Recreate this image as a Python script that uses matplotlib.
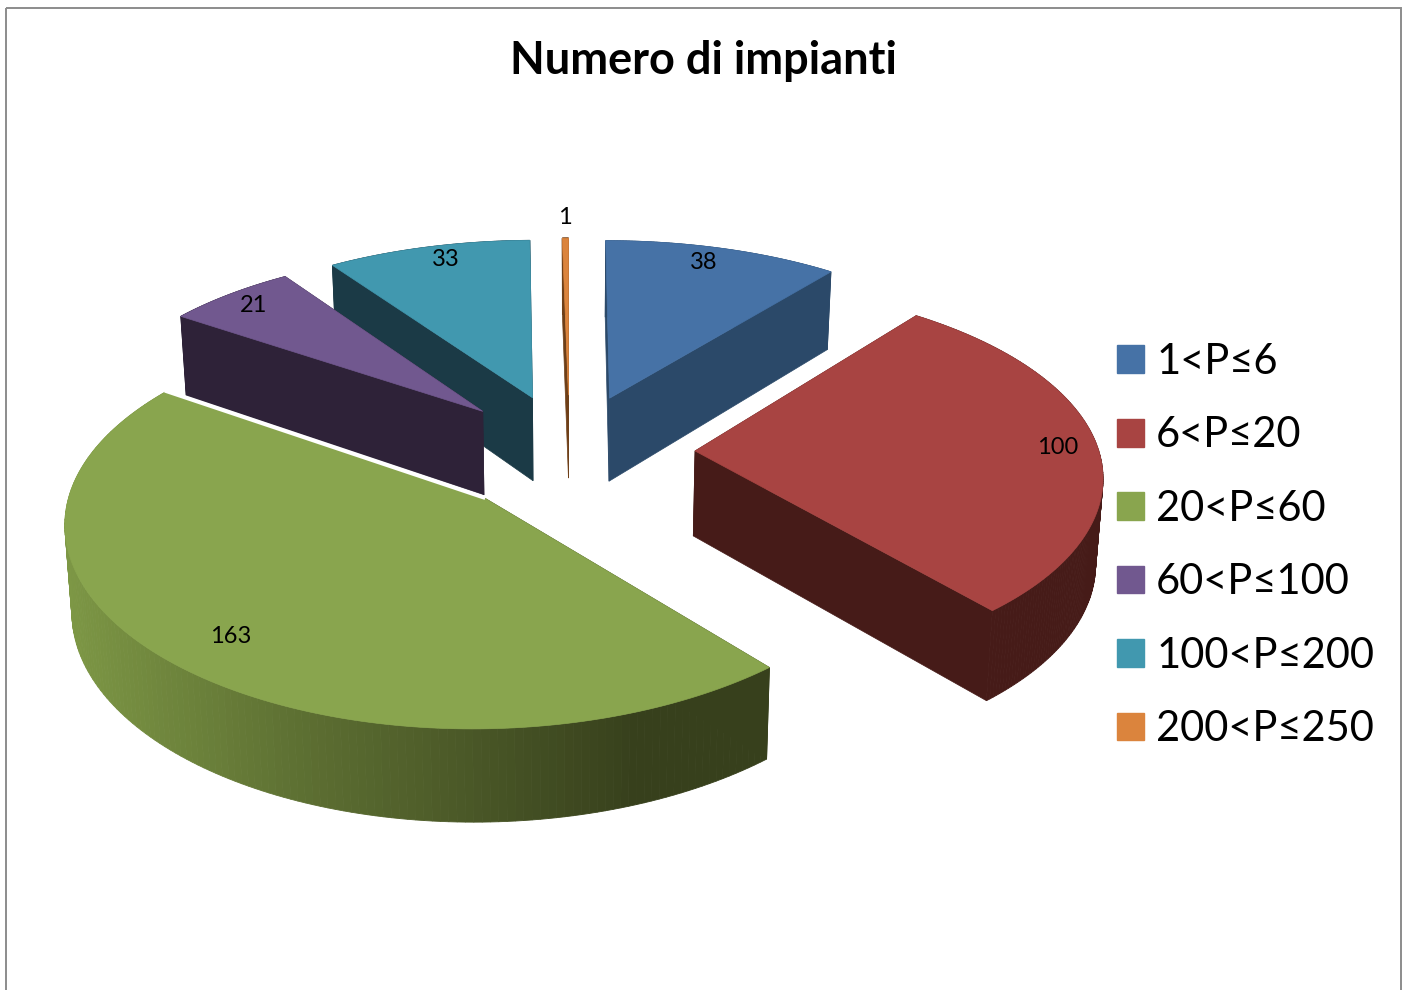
#!/usr/bin/env python3
import numpy as np
import matplotlib
matplotlib.use('Agg')
import matplotlib.pyplot as plt
from matplotlib.patches import Patch, Polygon, Rectangle

plt.rcParams['font.family'] = ['Lato', 'DejaVu Sans']

title = 'Numero di impianti'
categories = ['1<P≤6', '6<P≤20', '20<P≤60', '60<P≤100', '100<P≤200', '200<P≤250']
values = [38, 100, 163, 21, 33, 1]

topColors = ['#4672a6', '#a84442', '#89a54e', '#71588f', '#4198af', '#db843d']
sideColors = ['#2b4969', '#461b18', '#37401c', '#2e2238', '#1b3a46', '#6e3f18']

#camera of the fake 3d pie, in pixels of the picture
centerX, centerY = 569.5, 452
scaleX = 404
scaleY = 190
perspX = 0.11
perspY = 0.126
explode = 0.311
labelR = [0.89, 0.90, 0.84, 0.90, 0.90, 1.15]
labelTurn = [-1.5, 0, -1, 0, 1.5, 0]


def project(X, Y):
	return centerX + scaleX*X/(1 + perspX*Y), centerY - scaleY*Y/(1 + perspY*Y)


def dropDown(sx, sy, Y):
	#same point on the lower face of the slice
	depth = 85 - 6.7*Y
	return centerX + (sx - centerX)*0.986, sy + depth


def greenShade(sx):
	return np.interp(sx, [65, 300, 640, 770], [0, 0.45, 1, 1])


fig = plt.figure(figsize=(14.07, 9.9), dpi=100)
ax = fig.add_axes([0, 0, 1, 1])
ax.set_xlim(0, 1407)
ax.set_ylim(990, 0)
ax.axis('off')

ax.add_patch(Rectangle((6, 8), 1395, 1100, fill=False, edgecolor='#8c8c8c', linewidth=1.4))

angles = np.cumsum([0] + values)/sum(values)*2*np.pi

#back slices first, the big green one last
for i in [4, 3, 5, 0, 1, 2]:
	a0, a1 = angles[i], angles[i+1]
	mid = (a0 + a1)/2
	offX, offY = explode*np.sin(mid), explode*np.cos(mid)

	arc = np.linspace(a0, a1, 160)
	X = np.concatenate([[offX], offX + np.sin(arc)])
	Y = np.concatenate([[offY], offY + np.cos(arc)])
	sx, sy = project(X, Y)
	lowX, lowY = dropDown(sx, sy, Y)

	#the two cut faces
	for k in [1, len(X)-1]:
		quad = [(sx[0], sy[0]), (sx[k], sy[k]), (lowX[k], lowY[k]), (lowX[0], lowY[0])]
		ax.add_patch(Polygon(quad, closed=True, facecolor=sideColors[i], edgecolor=sideColors[i], linewidth=0.5))

	#outer wall, shaded strip by strip on the green one
	for k in range(1, len(X)-1):
		quad = [(sx[k], sy[k]), (sx[k+1], sy[k+1]), (lowX[k+1], lowY[k+1]), (lowX[k], lowY[k])]
		color = sideColors[i]
		if i == 2:
			t = greenShade(sx[k])
			color = (1-t)*np.array(matplotlib.colors.to_rgb('#7d9745')) + t*np.array(matplotlib.colors.to_rgb('#37401c'))
		ax.add_patch(Polygon(quad, closed=True, facecolor=color, edgecolor=color, linewidth=0.6))

	#thin white gap between green and the purple wall behind it
	if i == 2:
		ax.plot([sx[0], sx[-1]], [sy[0], sy[-1]], color='white', linewidth=3)

	ax.add_patch(Polygon(np.column_stack([sx, sy]), closed=True, facecolor=topColors[i], edgecolor=topColors[i], linewidth=0.5))

	labelAngle = mid + np.radians(labelTurn[i])
	labelX, labelY = project(offX + labelR[i]*np.sin(labelAngle), offY + labelR[i]*np.cos(labelAngle))
	ax.text(labelX, labelY, str(values[i]), fontsize=17, color='black', ha='center', va='center', zorder=5)

ax.text(703, 61, title, fontsize=32.5, fontweight='bold', color='black', ha='center', va='center')

handles = [Patch(facecolor=c, edgecolor=c) for c in topColors]
ax.legend(handles, categories, loc='center left', bbox_to_anchor=(1117, 545.5), bbox_transform=ax.transData,
	frameon=False, fontsize=30, handlelength=0.65, handleheight=0.65, handletextpad=0.29,
	labelspacing=0.85, borderpad=0, borderaxespad=0)

fig.savefig('out.png', dpi=100)
